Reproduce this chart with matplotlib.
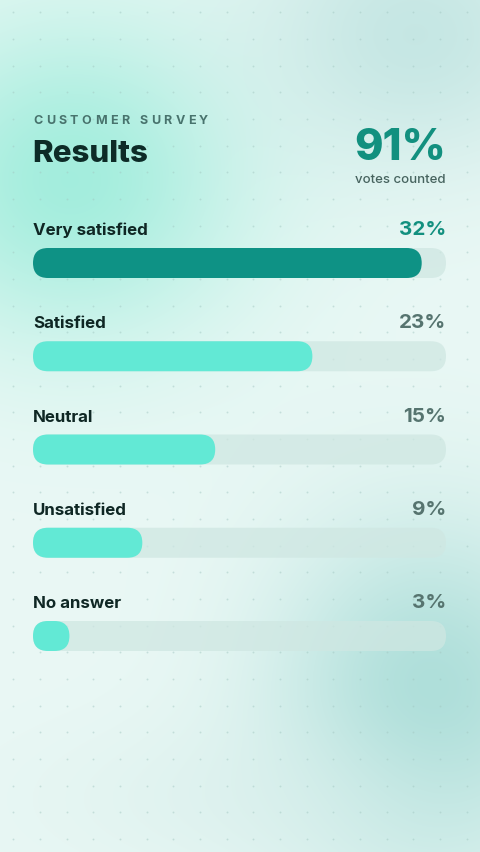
import numpy as np
import matplotlib
matplotlib.use("Agg")
import matplotlib.pyplot as plt
from matplotlib.patches import FancyBboxPatch
from matplotlib.font_manager import FontProperties

# --- data ---
categories = ["Very satisfied", "Satisfied", "Neutral", "Unsatisfied", "No answer"]
shares = [32, 23, 15, 9, 3]
votes_counted = 91
scale_max = 34

W, H = 480, 853
FONT = "Inter"

fig = plt.figure(figsize=(W / 100, H / 100), dpi=100)

# background: soft mint blobs
yy, xx = np.mgrid[0:H, 0:W]
base = np.array([234, 248, 245], dtype=float)
img = np.ones((H, W, 3)) * base


def blob(cx, cy, sx, sy, color, strength):
    g = np.exp(-(((xx - cx) / sx) ** 2 + ((yy - cy) / sy) ** 2) / 2) * strength
    return g[..., None], np.array(color, dtype=float)


for cx, cy, sx, sy, col, st in [
    (70, 180, 125, 115, (160, 237, 220), 0.95),
    (415, 35, 115, 95, (196, 230, 227), 0.95),
    (430, 700, 110, 125, (170, 221, 216), 0.95),
    (250, 800, 160, 60, (215, 238, 235), 0.5),
]:
    g, c = blob(cx, cy, sx, sy, col, st)
    img = img * (1 - g) + c * g

bg = fig.add_axes([0, 0, 1, 1])
bg.imshow(img.astype(np.uint8), extent=[0, W, H, 0], aspect="auto")
bg.set_xlim(0, W)
bg.set_ylim(H, 0)
bg.axis("off")

# dot grid
gx = np.arange(13.33, W, 26.67)
gy = np.arange(13.33, H, 26.67)
GX, GY = np.meshgrid(gx, gy)
bg.scatter(GX.ravel(), GY.ravel(), s=1.8, color="#a3c8c2", alpha=0.5, linewidths=0)

# text overlay in pixel coords
ov = fig.add_axes([0, 0, 1, 1], facecolor="none")
ov.set_xlim(0, W)
ov.set_ylim(H, 0)
ov.axis("off")

renderer = fig.canvas.get_renderer()


def spaced_text(ax, x, y, s, tracking, size, color, weight="bold"):
    prop = FontProperties(family=FONT, weight=weight, size=size)
    ref = renderer.get_text_width_height_descent("x", prop, ismath=False)[0]
    for k, ch in enumerate(s):
        if ch == " ":
            continue
        w = renderer.get_text_width_height_descent(s[:k] + "x", prop, ismath=False)[0] - ref if k else 0
        ax.text(x + w + k * tracking, y, ch, fontproperties=prop, color=color,
                ha="left", va="baseline")


spaced_text(ov, 33, 124, "CUSTOMER SURVEY", 3.45, 9, "#48736d", weight="bold")
ov.text(32, 162, "Results", family=FONT, weight=800, fontsize=22.5,
        color="#0d2b27", ha="left", va="baseline")
ov.text(446, 160, f"{votes_counted}%", family=FONT, weight=800, fontsize=31,
        color="#12907f", ha="right", va="baseline")
ov.text(446, 183, "votes counted", family=FONT, weight="medium", fontsize=9.5,
        color="#46635e", ha="right", va="baseline")

# bar axes
row_px = 93.25
first_center = 264
n = len(categories)
top_px = first_center - row_px / 2
bottom_px = top_px + n * row_px
left_px, width_px = 33, 413
bx = fig.add_axes([left_px / W, (H - bottom_px) / H, width_px / W, n * row_px / H],
                  facecolor="none")
bx.set_xlim(0, scale_max)
bx.set_ylim(n - 0.5, -0.5)
bx.axis("off")

bar_h = 30 / row_px
x_per_px = scale_max / width_px
radius = 15 * x_per_px
aspect = (1 / row_px) / x_per_px


def rounded_bar(ax, y, w, color, alpha=1.0):
    w = max(w, 2 * radius)
    p = FancyBboxPatch((0, y - bar_h / 2), w, bar_h,
                       boxstyle=f"round,pad=0,rounding_size={radius}",
                       mutation_aspect=aspect, facecolor=color, edgecolor="none",
                       alpha=alpha, transform=ax.transData)
    ax.add_patch(p)


for i, (cat, v) in enumerate(zip(categories, shares)):
    rounded_bar(bx, i, scale_max, "#cfe7e2", alpha=0.75)
    rounded_bar(bx, i, v, "#0e9285" if i == 0 else "#62e9d5")
    label_y = first_center + i * row_px - 29
    ov.text(33, label_y, cat, family=FONT, weight="bold", fontsize=12.2,
            color="#0f2724", ha="left", va="baseline")
    ov.text(446, label_y, f"{v}%", family=FONT, weight="bold", fontsize=14.8,
            color="#12907f" if i == 0 else "#56746f", ha="right", va="baseline")

fig.savefig("out.png", dpi=100)
